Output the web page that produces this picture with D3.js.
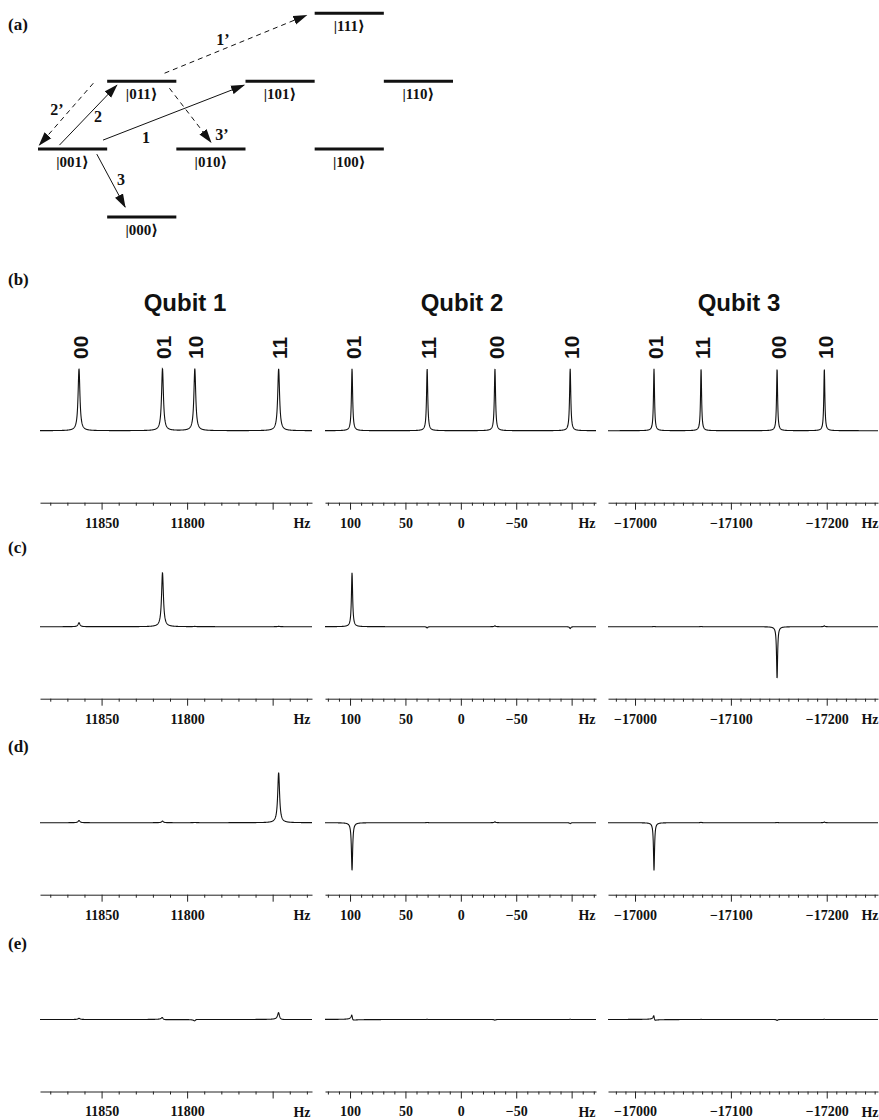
<!DOCTYPE html>
<html><head><meta charset="utf-8">
<script src="https://cdn.jsdelivr.net/npm/d3@7"></script>
<style>
body{margin:0;background:#fff} svg{display:block}
.serif{font-family:"Liberation Serif","Times New Roman","DejaVu Serif",serif;font-weight:bold}
.sans{font-family:"Liberation Sans",Arial,Helvetica,sans-serif;font-weight:bold}
</style>
</head><body><svg id="c" width="879" height="1120"></svg>
<script>
// ---------- data ----------
const panelLabels = ["(a)", "(b)", "(c)", "(d)", "(e)"];
const qubitTitles = ["Qubit 1", "Qubit 2", "Qubit 3"];

// energy-level diagram
const levelStates = ["|111⟩", "|011⟩", "|101⟩", "|110⟩", "|001⟩", "|010⟩", "|100⟩", "|000⟩"];
const levelColumn = [4, 1, 3, 5, 0, 2, 4, 1];
const levelRow = [0, 1, 1, 1, 2, 2, 2, 3];
const transitionLabels = ["1’", "2’", "2", "1", "3’", "3"];
const transitionFrom = ["|011⟩", "|011⟩", "|001⟩", "|001⟩", "|011⟩", "|001⟩"];
const transitionTo = ["|111⟩", "|001⟩", "|011⟩", "|101⟩", "|010⟩", "|000⟩"];
const transitionDashed = [true, true, false, false, true, false];

// spectra: line frequencies (Hz) and labels
const q1Freq = [11863.2, 11814.4, 11795.5, 11746.5];
const q1Labels = ["00", "01", "10", "11"];
const q2Freq = [98.2, 30.4, -30.8, -98.7];
const q2Labels = ["01", "11", "00", "10"];
const q3Freq = [-17019.8, -17068.9, -17148.2, -17197.5];
const q3Labels = ["01", "11", "00", "10"];

// axis domains and ticks
const q1Domain = [11886, 11727];
const q2Domain = [122.6, -122];
const q3Domain = [-16971.8, -17253.5];
const q1MajorTicks = [11850, 11800, 11750];
const q1TickLabels = ["11850", "11800", ""];
const q2MajorTicks = [100, 50, 0, -50, -100];
const q2TickLabels = ["100", "50", "0", "\u221250", ""];
const q3MajorTicks = [-17000, -17100, -17200];
const q3TickLabels = ["\u221217000", "\u221217100", "\u221217200"];
const minorTickStep = 10;
const unitLabel = "Hz";

// absorption amplitudes (relative to thermal spectrum (b)), per panel and qubit
const bQ1 = [1, 1, 1, 1], bQ2 = [1, 1, 1, 1], bQ3 = [1, 1, 1, 1];
const cQ1 = [0.065, 0.87, 0.004, 0.006], cQ2 = [0.87, -0.02, 0.015, -0.03], cQ3 = [0.004, 0.004, -0.84, 0.015];
const dQ1 = [0.035, 0.025, 0.004, 0.81], dQ2 = [-0.77, 0.004, 0.015, -0.015], dQ3 = [-0.77, 0.006, 0.004, 0.012];
const eQ1 = [0.02, 0.03, -0.02, 0.11], eQ2 = [0.06, 0.004, -0.01, 0.004], eQ3 = [0.05, 0.004, -0.015, 0.004];
// dispersive amplitudes (only visible in (e))
const eQ1Disp = [0, 0.015, -0.01, 0.02], eQ2Disp = [0.05, 0, 0, 0], eQ3Disp = [0.05, 0, 0, 0];
const zeroDisp = [0, 0, 0, 0];

// ---------- drawing ----------
const svg = d3.select("#c");
const ink = "#111";

// panel labels
const panelLabelY = [30, 285, 553, 752, 949];
svg.selectAll("text.plabel").data(panelLabels).join("text")
  .attr("class", "plabel serif").attr("x", 8).attr("y", (d, i) => panelLabelY[i])
  .style("font-size", "17px").attr("fill", ink)
  .text(d => d);

// ---- (a) energy diagram ----
const colScale = d3.scaleLinear().domain([0, 6]).range([38, 453]);
const rowScale = d3.scaleLinear().domain([0, 3]).range([13.3, 217]);
const levels = levelStates.map((s, i) => ({ s, c: levelColumn[i], r: levelRow[i] }));
const lv = {}; levels.forEach(l => lv[l.s] = l);
const gA = svg.append("g");
gA.selectAll("line.level").data(levels).join("line").attr("class", "level")
  .attr("x1", d => colScale(d.c)).attr("x2", d => colScale(d.c + 1))
  .attr("y1", d => rowScale(d.r)).attr("y2", d => rowScale(d.r))
  .attr("stroke", ink).attr("stroke-width", 3);
gA.selectAll("text.ket").data(levels).join("text").attr("class", "ket serif")
  .attr("x", d => colScale(d.c + 0.5)).attr("y", d => rowScale(d.r) + 18)
  .attr("text-anchor", "middle").style("font-size", "15px").attr("fill", ink).text(d => d.s);

svg.append("defs").append("marker").attr("id", "ah")
  .attr("viewBox", "0 -5 14 10").attr("refX", 13).attr("refY", 0)
  .attr("markerWidth", 14).attr("markerHeight", 10).attr("markerUnits", "userSpaceOnUse")
  .attr("orient", "auto").append("path").attr("d", "M0,-4.5L14,0L0,4.5Z").attr("fill", ink);

// arrow geometry: fractional position along each level (u) and vertical offset (v) for start / end
const arrowGeom = [
  { u0: 0.83, v0: -8, u1: -0.12, v1: 2, lx: 223, ly: 45 },
  { u0: -0.2, v0: 2, u1: 0.02, v1: -4, lx: 57, ly: 115 },
  { u0: 0.31, v0: -4, u1: 0.14, v1: 4, lx: 98, ly: 122 },
  { u0: 0.94, v0: -9, u1: -0.02, v1: 4, lx: 146, ly: 143 },
  { u0: 0.9, v0: 7, u1: 0.5, v1: -7, lx: 222, ly: 140 },
  { u0: 0.85, v0: 5, u1: 0.26, v1: -10, lx: 121, ly: 185 }
];
const arrows = transitionLabels.map((t, i) => {
  const a = lv[transitionFrom[i]], b = lv[transitionTo[i]], g = arrowGeom[i];
  return {
    t, dashed: transitionDashed[i], g,
    x1: colScale(a.c + g.u0), y1: rowScale(a.r) + g.v0,
    x2: colScale(b.c + g.u1), y2: rowScale(b.r) + g.v1
  };
});
gA.selectAll("line.arrow").data(arrows).join("line").attr("class", "arrow")
  .attr("x1", d => d.x1).attr("y1", d => d.y1).attr("x2", d => d.x2).attr("y2", d => d.y2)
  .attr("stroke", ink).attr("stroke-width", 1)
  .attr("stroke-dasharray", d => d.dashed ? "5,4" : null)
  .attr("marker-end", "url(#ah)");
gA.selectAll("text.tl").data(arrows).join("text").attr("class", "tl serif")
  .attr("x", d => d.g.lx).attr("y", d => d.g.ly).attr("text-anchor", "middle")
  .style("font-size", "16px").attr("fill", ink)
  .text(d => d.t);

// ---- spectra ----
const columns = [
  { x: [40, 312], freq: q1Freq, labels: q1Labels, domain: q1Domain, major: q1MajorTicks, tl: q1TickLabels, titleX: 185, hzX: 302 },
  { x: [325, 596], freq: q2Freq, labels: q2Labels, domain: q2Domain, major: q2MajorTicks, tl: q2TickLabels, titleX: 462, hzX: 587 },
  { x: [608, 878], freq: q3Freq, labels: q3Labels, domain: q3Domain, major: q3MajorTicks, tl: q3TickLabels, titleX: 739, hzX: 870 }
];
const rows = [
  { base: 430.7, amp: [bQ1, bQ2, bQ3], disp: [zeroDisp, zeroDisp, zeroDisp] },
  { base: 626.7, amp: [cQ1, cQ2, cQ3], disp: [zeroDisp, zeroDisp, zeroDisp] },
  { base: 822.7, amp: [dQ1, dQ2, dQ3], disp: [zeroDisp, zeroDisp, zeroDisp] },
  { base: 1019.5, amp: [eQ1, eQ2, eQ3], disp: [eQ1Disp, eQ2Disp, eQ3Disp] }
];
const gamma = 0.65; // Hz half-width

// titles
svg.selectAll("text.qt").data(columns).join("text").attr("class", "qt sans")
  .attr("x", d => d.titleX).attr("y", 311).attr("text-anchor", "middle")
  .style("font-size", "24px").attr("fill", ink)
  .text((d, i) => qubitTitles[i]);

columns.forEach((col, ci) => {
  const xs = d3.scaleLinear().domain(col.domain).range(col.x);
  // peak labels (panel b)
  col.freq.forEach((f, k) => {
    const px = xs(f);
    svg.append("text").attr("class", "sans").attr("transform", `translate(${px + 1},359) rotate(-90)`)
      .attr("dy", "0.36em").style("font-size", "21px").attr("fill", ink).text(col.labels[k]);
  });
  rows.forEach((row, ri) => {
    const ys = d3.scaleLinear().domain([0, 1]).range([row.base, row.base - 62]);
    const A = row.amp[ci], B = row.disp[ci];
    const pts = d3.range(col.x[0], col.x[1] + 0.001, 0.2).map(px => {
      const f = xs.invert(px);
      let v = 0;
      col.freq.forEach((f0, k) => {
        const d = f - f0, den = d * d + gamma * gamma;
        v += A[k] * gamma * gamma / den + B[k] * gamma * d / den;
      });
      return [f, v];
    });
    svg.append("path").datum(pts)
      .attr("d", d3.line().x(p => xs(p[0])).y(p => ys(p[1])))
      .attr("fill", "none").attr("stroke", ink).attr("stroke-width", 1.1);

    // axis
    const ay = row.base + 72;
    const lo = Math.min(...col.domain), hi = Math.max(...col.domain);
    const minor = d3.range(Math.ceil(lo / minorTickStep) * minorTickStep, hi, minorTickStep)
      .filter(v => !col.major.includes(v));
    const gm = svg.append("g").attr("transform", `translate(0,${ay})`)
      .call(d3.axisBottom(xs).tickValues(minor).tickSize(3).tickSizeOuter(0).tickFormat(""));
    gm.select(".domain").attr("stroke", "#222");
    gm.selectAll(".tick line").attr("stroke", "#222");
    const gM = svg.append("g").attr("transform", `translate(0,${ay})`)
      .call(d3.axisBottom(xs).tickValues(col.major).tickSize(7).tickSizeOuter(0).tickPadding(8)
        .tickFormat((v, i) => col.tl[i]));
    gM.attr("font-family", null).attr("font-size", null);
    gM.select(".domain").remove();
    gM.selectAll(".tick line").attr("stroke", "#222");
    gM.selectAll(".tick text").attr("class", "serif").style("font-size", "14px").attr("fill", ink);
    svg.append("text").attr("class", "serif").attr("x", col.hzX).attr("y", ay + 25).attr("text-anchor", "middle")
      .style("font-size", "14px").attr("fill", ink)
      .text(unitLabel);
  });
});
</script></body></html>
